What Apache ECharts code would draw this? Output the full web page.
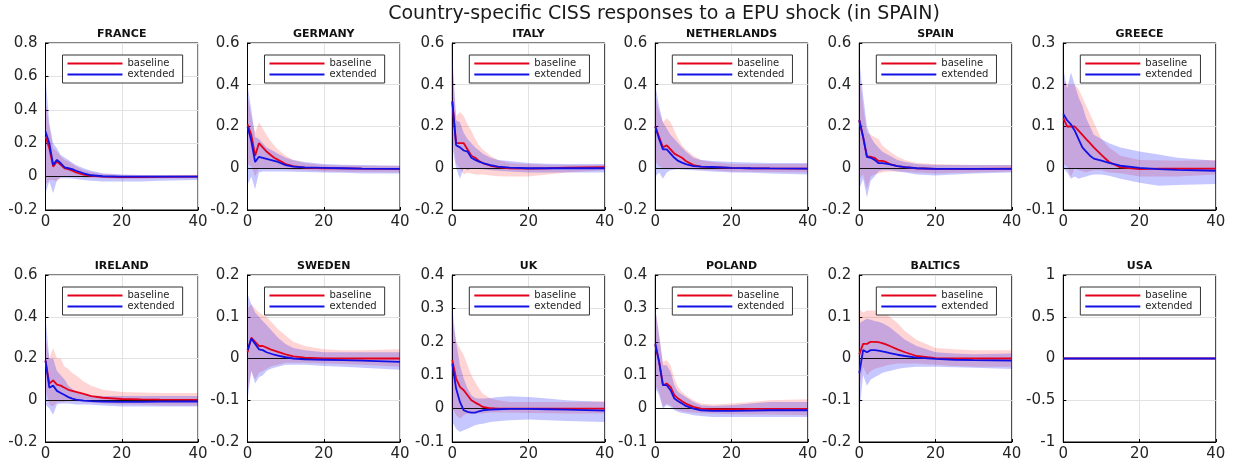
<!DOCTYPE html>
<html>
<head>
<meta charset="utf-8">
<script src="https://cdn.jsdelivr.net/npm/echarts@6/dist/echarts.min.js"></script>
<style>
  html, body { margin: 0; padding: 0; background: #fff; }
  #chart { width: 1235px; height: 466px; }
</style>
</head>
<body>
<div id="chart"></div>
<script>
// panels, left to right, top row then bottom row
const countries = ['FRANCE', 'GERMANY', 'ITALY', 'NETHERLANDS', 'SPAIN', 'GREECE',
  'IRELAND', 'SWEDEN', 'UK', 'POLAND', 'BALTICS', 'USA']
const horizons = [0, 1, 2, 3, 4, 5, 6, 7, 8, 10, 12, 15, 20, 25, 30, 40]
const yMin = [-0.2, -0.2, -0.2, -0.2, -0.2, -0.1, -0.2, -0.2, -0.1, -0.1, -0.2, -1]
const yMax = [0.8, 0.6, 0.6, 0.6, 0.6, 0.3, 0.6, 0.2, 0.4, 0.4, 0.2, 1]
const yStep = [0.2, 0.2, 0.2, 0.2, 0.2, 0.1, 0.2, 0.1, 0.1, 0.1, 0.1, 0.5]

// baseline model: median response and band
const baseline = [
  [0.24, 0.17, 0.06, 0.09, 0.07, 0.05, 0.045, 0.035, 0.025, 0.012, 0.005, 0, -0.003, -0.003, -0.002, 0],
  [0.21, 0.16, 0.06, 0.12, 0.1, 0.08, 0.065, 0.05, 0.04, 0.02, 0.01, 0.003, 0, -0.001, -0.002, -0.003],
  [0.32, 0.12, 0.12, 0.12, 0.09, 0.06, 0.05, 0.035, 0.025, 0.012, 0.005, 0, -0.002, 0, 0.003, 0.005],
  [0.2, 0.15, 0.1, 0.11, 0.09, 0.07, 0.06, 0.05, 0.035, 0.015, 0.008, 0.005, 0.002, 0, -0.001, -0.002],
  [0.23, 0.15, 0.055, 0.055, 0.05, 0.035, 0.035, 0.03, 0.02, 0.01, 0.005, 0, -0.003, -0.003, -0.003, -0.002],
  [0.12, 0.1, 0.1, 0.1, 0.09, 0.08, 0.07, 0.06, 0.05, 0.032, 0.015, 0.002, -0.002, -0.001, -0.001, -0.001],
  [0.19, 0.08, 0.095, 0.075, 0.07, 0.06, 0.05, 0.045, 0.04, 0.03, 0.02, 0.012, 0.006, 0.004, 0.003, 0.002],
  [0.015, 0.05, 0.04, 0.03, 0.03, 0.026, 0.022, 0.019, 0.016, 0.01, 0.005, 0.002, 0, 0, 0, 0],
  [0.145, 0.09, 0.065, 0.055, 0.04, 0.025, 0.018, 0.012, 0.005, 0.001, 0, 0, 0, 0, 0, 0],
  [0.19, 0.14, 0.07, 0.075, 0.065, 0.04, 0.03, 0.022, 0.015, 0.005, 0, -0.002, -0.002, -0.001, -0.001, -0.001],
  [0.01, 0.035, 0.035, 0.04, 0.04, 0.039, 0.037, 0.034, 0.03, 0.022, 0.015, 0.006, 0.001, 0, 0, 0],
  [0, 0, 0, 0, 0, 0, 0, 0, 0, 0, 0, 0, 0, 0, 0, 0]
]
const baselineLo = [
  [-0.05, -0.02, -0.02, -0.03, 0, 0, 0, 0, 0, -0.005, -0.008, -0.01, -0.015, -0.013, -0.012, -0.01],
  [0.02, 0.01, -0.04, 0, 0, 0, 0, 0, 0, -0.005, -0.008, -0.01, -0.015, -0.017, -0.018, -0.02],
  [0.15, 0.02, 0, -0.03, -0.02, -0.025, -0.03, -0.03, -0.03, -0.035, -0.038, -0.04, -0.04, -0.03, -0.02, -0.01],
  [0.03, 0.01, 0, 0, 0, 0, 0, 0, 0, -0.005, -0.007, -0.01, -0.015, -0.017, -0.018, -0.02],
  [-0.05, -0.03, -0.1, -0.04, -0.03, -0.025, -0.02, -0.017, -0.015, -0.015, -0.017, -0.02, -0.025, -0.022, -0.02, -0.015],
  [0.01, 0.005, -0.02, 0, -0.005, -0.007, -0.01, -0.007, -0.005, -0.005, -0.01, -0.012, -0.02, -0.02, -0.02, -0.015],
  [0.05, -0.02, -0.03, -0.01, -0.01, -0.007, -0.005, -0.005, -0.005, -0.01, -0.012, -0.015, -0.02, -0.022, -0.025, -0.025],
  [-0.08, -0.03, -0.05, -0.035, -0.03, -0.025, -0.02, -0.017, -0.015, -0.01, -0.01, -0.01, -0.012, -0.013, -0.015, -0.02],
  [0, -0.02, -0.03, -0.02, -0.015, -0.015, -0.015, -0.015, -0.015, -0.012, -0.012, -0.012, -0.013, -0.014, -0.015, -0.015],
  [0.07, 0.05, 0.005, 0.015, 0.01, 0, -0.005, -0.008, -0.01, -0.012, -0.014, -0.015, -0.017, -0.018, -0.018, -0.02],
  [-0.07, -0.02, -0.04, -0.03, -0.025, -0.022, -0.02, -0.017, -0.015, -0.012, -0.012, -0.012, -0.015, -0.018, -0.02, -0.02],
  [0, 0, 0, 0, 0, 0, 0, 0, 0, 0, 0, 0, 0, 0, 0, 0]
]
const baselineHi = [
  [0.45, 0.3, 0.17, 0.15, 0.12, 0.1, 0.09, 0.075, 0.06, 0.04, 0.028, 0.015, 0.01, 0.01, 0.01, 0.01],
  [0.35, 0.25, 0.17, 0.22, 0.19, 0.16, 0.13, 0.11, 0.09, 0.06, 0.04, 0.025, 0.015, 0.013, 0.012, 0.012],
  [0.5, 0.25, 0.27, 0.25, 0.21, 0.18, 0.14, 0.11, 0.09, 0.06, 0.04, 0.025, 0.02, 0.017, 0.015, 0.015],
  [0.35, 0.27, 0.22, 0.24, 0.22, 0.18, 0.14, 0.11, 0.09, 0.06, 0.04, 0.03, 0.02, 0.02, 0.02, 0.02],
  [0.45, 0.3, 0.17, 0.16, 0.15, 0.14, 0.11, 0.095, 0.08, 0.055, 0.04, 0.025, 0.02, 0.018, 0.016, 0.015],
  [0.21, 0.2, 0.2, 0.2, 0.19, 0.17, 0.15, 0.13, 0.11, 0.07, 0.05, 0.03, 0.02, 0.019, 0.018, 0.02],
  [0.3, 0.2, 0.25, 0.2, 0.2, 0.16, 0.15, 0.13, 0.12, 0.09, 0.07, 0.05, 0.04, 0.037, 0.035, 0.035],
  [0.12, 0.13, 0.12, 0.11, 0.105, 0.1, 0.09, 0.08, 0.07, 0.055, 0.04, 0.03, 0.022, 0.02, 0.02, 0.022],
  [0.27, 0.2, 0.18, 0.16, 0.13, 0.1, 0.08, 0.06, 0.045, 0.03, 0.025, 0.02, 0.02, 0.02, 0.02, 0.022],
  [0.3, 0.22, 0.14, 0.145, 0.13, 0.09, 0.065, 0.05, 0.04, 0.025, 0.015, 0.012, 0.015, 0.02, 0.025, 0.028],
  [0.12, 0.11, 0.115, 0.115, 0.115, 0.112, 0.11, 0.105, 0.1, 0.085, 0.065, 0.045, 0.025, 0.022, 0.02, 0.02],
  [0, 0, 0, 0, 0, 0, 0, 0, 0, 0, 0, 0, 0, 0, 0, 0]
]

// extended model: median response and band
const extended = [
  [0.27, 0.2, 0.07, 0.1, 0.08, 0.055, 0.05, 0.045, 0.035, 0.02, 0.008, 0.002, 0, 0, 0, 0],
  [0.2, 0.13, 0.03, 0.055, 0.05, 0.045, 0.04, 0.035, 0.03, 0.015, 0.008, 0.004, 0.002, 0, -0.002, -0.003],
  [0.32, 0.11, 0.1, 0.085, 0.08, 0.05, 0.04, 0.032, 0.025, 0.015, 0.008, 0.003, 0, 0, 0, 0],
  [0.2, 0.14, 0.09, 0.09, 0.07, 0.05, 0.035, 0.027, 0.02, 0.01, 0.008, 0.006, 0.002, 0, -0.001, -0.002],
  [0.23, 0.15, 0.055, 0.05, 0.04, 0.025, 0.025, 0.022, 0.018, 0.01, 0.005, 0, -0.003, -0.003, -0.003, -0.003],
  [0.13, 0.115, 0.105, 0.09, 0.07, 0.05, 0.04, 0.03, 0.023, 0.018, 0.013, 0.006, 0.001, -0.002, -0.004, -0.006],
  [0.19, 0.06, 0.07, 0.045, 0.035, 0.025, 0.015, 0.008, 0.003, -0.002, -0.004, -0.006, -0.008, -0.008, -0.007, -0.006],
  [0.02, 0.048, 0.035, 0.022, 0.02, 0.015, 0.012, 0.009, 0.007, 0.003, 0, -0.002, -0.003, -0.004, -0.005, -0.008],
  [0.135, 0.06, 0.02, -0.005, -0.01, -0.012, -0.012, -0.008, -0.005, -0.003, -0.002, -0.001, -0.001, -0.002, -0.003, -0.006],
  [0.195, 0.14, 0.07, 0.07, 0.055, 0.03, 0.022, 0.015, 0.008, 0, -0.005, -0.007, -0.007, -0.006, -0.005, -0.005],
  [-0.035, 0.02, 0.015, 0.02, 0.02, 0.019, 0.017, 0.015, 0.013, 0.009, 0.006, 0.002, -0.001, -0.003, -0.004, -0.005],
  [0, 0, 0, 0, 0, 0, 0, 0, 0, 0, 0, 0, 0, 0, 0, 0]
]
const extendedLo = [
  [-0.1, -0.03, -0.1, -0.02, -0.01, -0.01, -0.01, -0.012, -0.015, -0.02, -0.025, -0.03, -0.03, -0.03, -0.025, -0.02],
  [-0.08, -0.04, -0.1, -0.02, -0.015, -0.015, -0.015, -0.015, -0.015, -0.015, -0.017, -0.018, -0.02, -0.022, -0.025, -0.025],
  [0.1, 0, -0.05, 0, -0.01, 0, 0, -0.003, -0.005, -0.01, -0.012, -0.015, -0.02, -0.02, -0.02, -0.02],
  [-0.04, -0.02, -0.05, -0.02, -0.01, -0.007, -0.005, -0.007, -0.008, -0.01, -0.012, -0.015, -0.02, -0.022, -0.025, -0.03],
  [-0.1, -0.05, -0.14, -0.06, -0.04, -0.015, -0.01, -0.01, -0.01, -0.015, -0.02, -0.03, -0.035, -0.03, -0.025, -0.02],
  [0, -0.01, -0.025, -0.02, -0.025, -0.022, -0.02, -0.017, -0.015, -0.015, -0.018, -0.025, -0.035, -0.042, -0.04, -0.038],
  [-0.02, -0.04, -0.07, -0.02, -0.015, -0.015, -0.015, -0.018, -0.02, -0.02, -0.022, -0.025, -0.03, -0.03, -0.03, -0.03],
  [-0.1, -0.03, -0.06, -0.045, -0.04, -0.03, -0.025, -0.022, -0.02, -0.015, -0.015, -0.015, -0.018, -0.02, -0.022, -0.027],
  [-0.04, -0.06, -0.07, -0.065, -0.06, -0.055, -0.05, -0.047, -0.045, -0.04, -0.038, -0.035, -0.033, -0.035, -0.037, -0.04],
  [0.06, 0.04, 0, 0.01, 0.005, -0.005, -0.01, -0.013, -0.015, -0.02, -0.022, -0.025, -0.025, -0.025, -0.025, -0.025],
  [-0.13, -0.04, -0.065, -0.05, -0.045, -0.04, -0.035, -0.032, -0.03, -0.025, -0.022, -0.02, -0.02, -0.021, -0.022, -0.025],
  [0, 0, 0, 0, 0, 0, 0, 0, 0, 0, 0, 0, 0, 0, 0, 0]
]
const extendedHi = [
  [0.6, 0.32, 0.2, 0.17, 0.13, 0.115, 0.1, 0.085, 0.07, 0.05, 0.035, 0.02, 0.012, 0.01, 0.01, 0.008],
  [0.4, 0.28, 0.15, 0.14, 0.12, 0.1, 0.09, 0.08, 0.07, 0.05, 0.04, 0.03, 0.02, 0.017, 0.015, 0.012],
  [0.55, 0.23, 0.22, 0.17, 0.14, 0.12, 0.1, 0.085, 0.07, 0.05, 0.04, 0.035, 0.025, 0.022, 0.02, 0.02],
  [0.4, 0.3, 0.22, 0.19, 0.16, 0.14, 0.12, 0.1, 0.08, 0.05, 0.04, 0.035, 0.03, 0.027, 0.025, 0.025],
  [0.52, 0.35, 0.2, 0.15, 0.12, 0.1, 0.08, 0.07, 0.06, 0.04, 0.03, 0.02, 0.015, 0.015, 0.015, 0.015],
  [0.24, 0.19, 0.23, 0.2, 0.17, 0.15, 0.12, 0.1, 0.08, 0.07, 0.06, 0.05, 0.04, 0.033, 0.025, 0.018],
  [0.4, 0.2, 0.2, 0.14, 0.12, 0.1, 0.07, 0.055, 0.04, 0.025, 0.022, 0.02, 0.02, 0.02, 0.02, 0.02],
  [0.155, 0.13, 0.11, 0.1, 0.09, 0.08, 0.07, 0.06, 0.05, 0.035, 0.025, 0.02, 0.015, 0.015, 0.015, 0.015],
  [0.3, 0.2, 0.13, 0.09, 0.06, 0.04, 0.032, 0.03, 0.03, 0.032, 0.035, 0.037, 0.035, 0.03, 0.025, 0.02],
  [0.3, 0.22, 0.13, 0.13, 0.11, 0.07, 0.05, 0.042, 0.035, 0.02, 0.01, 0.008, 0.01, 0.015, 0.02, 0.02],
  [0.085, 0.09, 0.095, 0.093, 0.09, 0.088, 0.085, 0.08, 0.075, 0.06, 0.045, 0.03, 0.015, 0.012, 0.01, 0.012],
  [0, 0, 0, 0, 0, 0, 0, 0, 0, 0, 0, 0, 0, 0, 0, 0]
]

const FONT = 'DejaVu Sans'
const RED = '#e3001b'
const BLUE = '#1212e6'
const colLeft = [45.5, 247.5, 452.3, 655.3, 859.3, 1063.3]
const rowTop = [43, 275]
const W = 152.5
const H = 167

const chart = echarts.init(document.getElementById('chart'))

function pairs(arr) {
  return horizons.map((h, k) => [h, arr[k]])
}

// shaded band: one polygon through upper bounds then back along lower bounds
function bandSeries(i, lo, hi, color) {
  return {
    type: 'custom', xAxisIndex: i, yAxisIndex: i,
    silent: true, z: 1,
    data: horizons.map((h, k) => [h, lo[k], hi[k]]),
    encode: { x: 0, y: [1, 2] },
    renderItem: (params, api) => {
      if (params.dataIndex !== 0) return null
      const n = horizons.length
      const upper = [], lower = []
      for (let k = 0; k < n; k++) {
        upper.push(api.coord([api.value(0, k), api.value(2, k)]))
        lower.push(api.coord([api.value(0, k), api.value(1, k)]))
      }
      return {
        type: 'polygon',
        shape: { points: upper.concat(lower.reverse()) },
        style: { fill: color, stroke: null }
      }
    }
  }
}

const grids = [], xAxes = [], yAxes = [], titles = [], legends = [], series = []

titles.push({
  text: 'Country-specific CISS responses to a EPU shock (in SPAIN)',
  left: 664, top: 5, textAlign: 'center', padding: 0,
  textStyle: { fontFamily: FONT, fontSize: 19, fontWeight: 'normal', color: '#1a1a1a' }
})

countries.forEach((name, i) => {
  const left = colLeft[i % 6]
  const top = rowTop[Math.floor(i / 6)]

  grids.push({
    left: left, top: top, width: W, height: H,
    show: true, borderColor: '#000', borderWidth: 1, backgroundColor: '#fff'
  })
  xAxes.push({
    type: 'value', gridIndex: i, min: 0, max: 40, interval: 20,
    axisLine: { show: true, onZero: false, lineStyle: { color: '#000' } },
    axisTick: { show: true, inside: true, length: 3, lineStyle: { color: '#000' } },
    axisLabel: { fontFamily: FONT, fontSize: 15, color: '#262626', margin: 5 },
    splitLine: { show: true, lineStyle: { color: '#e2e2e2', width: 1 } }
  })
  yAxes.push({
    type: 'value', gridIndex: i, min: yMin[i], max: yMax[i], interval: yStep[i],
    axisLine: { show: true, lineStyle: { color: '#000' } },
    axisTick: { show: true, inside: true, length: 3, lineStyle: { color: '#000' } },
    axisLabel: { fontFamily: FONT, fontSize: 15, color: '#262626', margin: 8 },
    splitLine: { show: true, lineStyle: { color: '#e2e2e2', width: 1 } }
  })
  titles.push({
    text: name, left: left + W / 2, top: top - 14, textAlign: 'center', padding: 0,
    textStyle: { fontFamily: FONT, fontSize: 11, fontWeight: 'bold', color: '#111' }
  })
  legends.push({
    data: ['baseline', 'extended'],
    left: left + 17, top: top + 12,
    orient: 'vertical', icon: 'rect', itemWidth: 55, itemHeight: 2, itemGap: 0,
    padding: [3, 8, 3, 5],
    borderColor: '#333', borderWidth: 1, backgroundColor: '#fff',
    selectedMode: false,
    textStyle: { fontFamily: FONT, fontSize: 10, color: '#262626', lineHeight: 11 }
  })

  series.push(bandSeries(i, baselineLo[i], baselineHi[i], 'rgba(255,0,0,0.17)'))
  series.push(bandSeries(i, extendedLo[i], extendedHi[i], 'rgba(0,0,255,0.22)'))
  series.push({
    name: 'baseline', type: 'line', xAxisIndex: i, yAxisIndex: i,
    data: pairs(baseline[i]), symbol: 'none', z: 3,
    lineStyle: { color: RED, width: 1.8 }, itemStyle: { color: RED },
    markLine: {
      silent: true, symbol: 'none', z: 2, animation: false,
      label: { show: false },
      lineStyle: { color: '#111', width: 1, type: 'solid' },
      data: [{ yAxis: 0 }]
    }
  })
  series.push({
    name: 'extended', type: 'line', xAxisIndex: i, yAxisIndex: i,
    data: pairs(extended[i]), symbol: 'none', z: 3,
    lineStyle: { color: BLUE, width: 1.8 }, itemStyle: { color: BLUE }
  })
})

chart.setOption({
  animation: false,
  backgroundColor: '#fff',
  title: titles,
  legend: legends,
  grid: grids,
  xAxis: xAxes,
  yAxis: yAxes,
  series: series
})
</script>
</body>
</html>
